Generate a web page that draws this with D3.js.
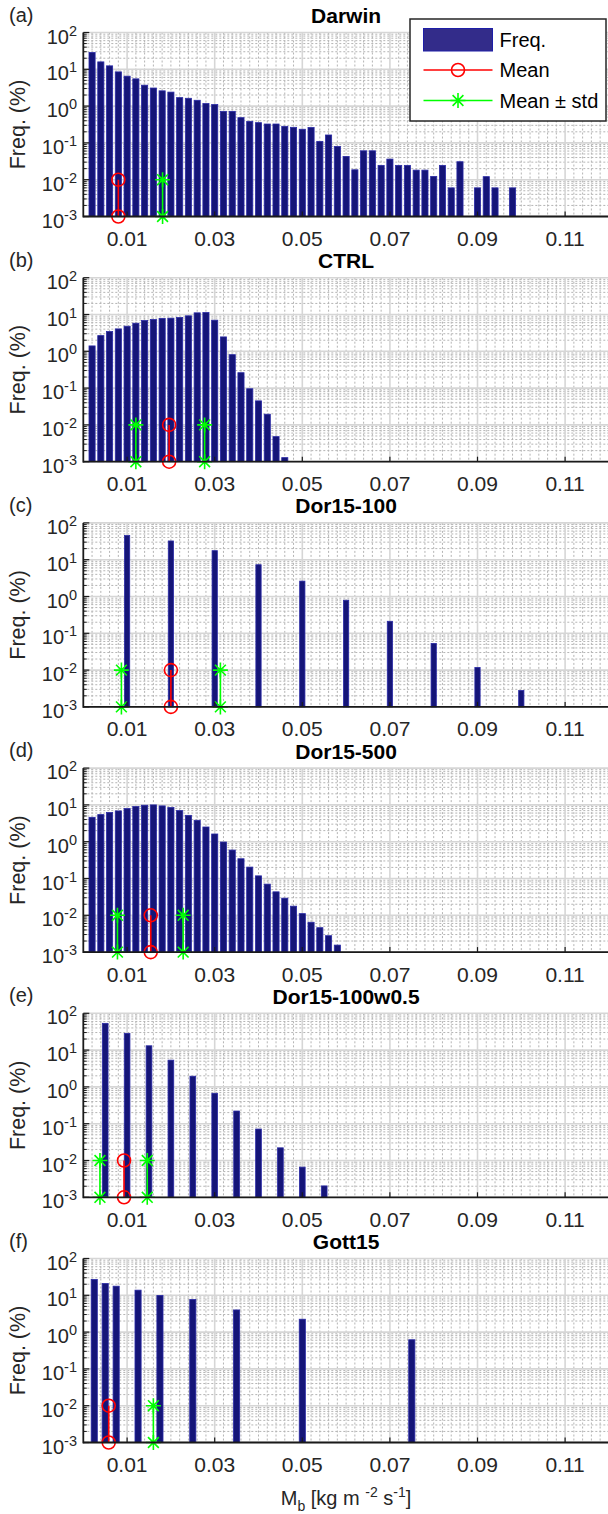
<!DOCTYPE html>
<html>
<head>
<meta charset="utf-8">
<script src="https://cdn.jsdelivr.net/npm/d3@7"></script>
<style>
body { margin: 0; background: #fff; }
svg { display: block; font-family: "Liberation Sans", Arial, sans-serif; }
</style>
</head>
<body>
<div id="chart"></div>
<script>
// bin centres [kg m-2 s-1] and frequencies [%]
var darwinX = [0.002, 0.004, 0.006, 0.008, 0.010, 0.012, 0.014, 0.016, 0.018, 0.020,
               0.022, 0.024, 0.026, 0.028, 0.030, 0.032, 0.034, 0.036, 0.038, 0.040,
               0.042, 0.044, 0.046, 0.048, 0.050, 0.052, 0.054, 0.056, 0.058, 0.060,
               0.062, 0.064, 0.066, 0.068, 0.070, 0.072, 0.074, 0.076, 0.078, 0.080,
               0.082, 0.084, 0.086, 0.090, 0.092, 0.094, 0.098];
var darwinF = [28.6, 15.9, 12.4, 8.5, 6.5, 5.5, 3.7, 3.1, 2.6, 2.4,
               1.7, 1.63, 1.44, 1.17, 1.10, 0.72, 0.72, 0.485, 0.385, 0.355,
               0.326, 0.326, 0.282, 0.265, 0.235, 0.262, 0.11, 0.164, 0.080, 0.043,
               0.0186, 0.061, 0.061, 0.0245, 0.0363, 0.0245, 0.0245, 0.0182, 0.0182, 0.0123,
               0.0245, 0.006, 0.0308, 0.006, 0.0121, 0.006, 0.006];

var ctrlX = [0.002, 0.004, 0.006, 0.008, 0.010, 0.012, 0.014, 0.016, 0.018, 0.020,
             0.022, 0.024, 0.026, 0.028, 0.030, 0.032, 0.034, 0.036, 0.038, 0.040,
             0.042, 0.044, 0.046];
var ctrlF = [1.40, 2.67, 3.44, 4.06, 4.8, 5.8, 6.86, 7.3, 7.8, 7.94,
             8.28, 9.2, 11.1, 11.3, 7.0, 2.46, 0.81, 0.262, 0.096, 0.045,
             0.0195, 0.0048, 0.00129];

var dor100X = [0.01, 0.02, 0.03, 0.04, 0.05, 0.06, 0.07, 0.08, 0.09, 0.10];
var dor100F = [45.2, 32.3, 17.6, 7.3, 2.62, 0.79, 0.212, 0.053, 0.0118, 0.00279];

var dor500X = [0.002, 0.004, 0.006, 0.008, 0.010, 0.012, 0.014, 0.016, 0.018, 0.020,
               0.022, 0.024, 0.026, 0.028, 0.030, 0.032, 0.034, 0.036, 0.038, 0.040,
               0.042, 0.044, 0.046, 0.048, 0.050, 0.052, 0.054, 0.056, 0.058];
var dor500F = [4.6, 5.45, 6.2, 6.86, 7.94, 9.0, 9.8, 10.0, 9.4, 8.45,
               7.0, 5.2, 3.82, 2.51, 1.62, 0.98, 0.593, 0.344, 0.204, 0.118,
               0.0703, 0.0434, 0.0292, 0.0177, 0.0111, 0.00646, 0.00461, 0.00279, 0.00155];

var w05X = [0.005, 0.010, 0.015, 0.020, 0.025, 0.030, 0.035, 0.040, 0.045, 0.050, 0.055];
var w05F = [53.4, 28.5, 13.1, 5.33, 1.95, 0.67, 0.221, 0.0716, 0.0221, 0.0066, 0.00204];

var gottX = [0.0025, 0.005, 0.0075, 0.0125, 0.0175, 0.025, 0.035, 0.05, 0.075];
var gottF = [26.9, 20.9, 17.7, 13.8, 9.9, 7.7, 4.0, 2.24, 0.62];

var meanX = [0.0080, 0.0196, 0.0200, 0.0154, 0.0093, 0.0058];
var stdX = [[0.0181], [0.0120, 0.0277], [0.0087, 0.0313], [0.0078, 0.0228], [0.0038, 0.0146], [0.0160]];

var titles = ["Darwin", "CTRL", "Dor15-100", "Dor15-500", "Dor15-100w0.5", "Gott15"];
var tags = ["(a)", "(b)", "(c)", "(d)", "(e)", "(f)"];
var xTickVals = [0.01, 0.03, 0.05, 0.07, 0.09, 0.11];
var yExps = [-3, -2, -1, 0, 1, 2];

var width = 608, height = 1514;
var left = 83.3, right = 608.9, plotH = 184, step = 245.2, firstTop = 32.5;
var barFill = "#151578", barEdge = "#2a2aa6";

var svg = d3.select("#chart").append("svg")
    .attr("width", width)
    .attr("height", height);

var x = d3.scaleLinear().domain([0, 0.12]).range([left, right]);

var panels = [
    {xs: darwinX, fs: darwinF, bw: 0.0014},
    {xs: ctrlX, fs: ctrlF, bw: 0.0014},
    {xs: dor100X, fs: dor100F, bw: 0.0012},
    {xs: dor500X, fs: dor500F, bw: 0.0014},
    {xs: w05X, fs: w05F, bw: 0.0013},
    {xs: gottX, fs: gottF, bw: 0.0014}
];

function asterisk(g, cx, cy, r, color) {
    var d = r * 0.72;
    var p = "M" + (cx - r) + "," + cy + "H" + (cx + r) +
        "M" + cx + "," + (cy - r) + "V" + (cy + r) +
        "M" + (cx - d) + "," + (cy - d) + "L" + (cx + d) + "," + (cy + d) +
        "M" + (cx - d) + "," + (cy + d) + "L" + (cx + d) + "," + (cy - d);
    g.append("path").attr("d", p).attr("stroke", color).attr("stroke-width", 1.6).attr("fill", "none");
}

function drawPanel(i) {
    var p = panels[i];
    var top = firstTop + i * step;
    var y = d3.scaleLog().domain([1e-3, 1e2]).range([top + plotH, top]);
    var g = svg.append("g");
    var bottom = y(1e-3);

    // minor grid (dotted)
    var minorX = d3.range(0.002, 0.1201, 0.002).filter(function(v) {
        var k = Math.round(v * 100);
        return !(Math.abs(v * 100 - k) < 1e-6 && k % 2 === 1);
    });
    g.selectAll(".mgx").data(minorX).enter().append("line")
        .attr("x1", d => x(d)).attr("x2", d => x(d))
        .attr("y1", top).attr("y2", bottom)
        .attr("stroke", "#b4b4b4").attr("stroke-width", 1).attr("stroke-dasharray", "2,2");
    var minorY = [];
    for (var e = -3; e < 2; e++) for (var m = 2; m <= 9; m++) minorY.push(m * Math.pow(10, e));
    g.selectAll(".mgy").data(minorY).enter().append("line")
        .attr("x1", left).attr("x2", right)
        .attr("y1", d => y(d)).attr("y2", d => y(d))
        .attr("stroke", "#b4b4b4").attr("stroke-width", 1).attr("stroke-dasharray", "2,2");

    // major grid
    g.selectAll(".gx").data(xTickVals).enter().append("line")
        .attr("x1", d => x(d)).attr("x2", d => x(d))
        .attr("y1", top).attr("y2", bottom)
        .attr("stroke", "#d6d6d6").attr("stroke-width", 1.6);
    g.selectAll(".gy").data(yExps).enter().append("line")
        .attr("x1", left).attr("x2", right)
        .attr("y1", d => y(Math.pow(10, d))).attr("y2", d => y(Math.pow(10, d)))
        .attr("stroke", "#d6d6d6").attr("stroke-width", 1.6);

    // bars
    var bwPx = x(p.bw) - x(0);
    g.selectAll(".bar").data(p.fs).enter().append("rect")
        .attr("x", (d, j) => x(p.xs[j]) - bwPx / 2)
        .attr("width", bwPx)
        .attr("y", d => y(d))
        .attr("height", d => bottom - y(d))
        .attr("fill", barFill)
        .attr("stroke", barEdge)
        .attr("stroke-width", 0.8);

    // mean +- std markers
    stdX[i].forEach(function(s) {
        g.append("line").attr("x1", x(s)).attr("x2", x(s))
            .attr("y1", y(1e-2)).attr("y2", y(1e-3))
            .attr("stroke", "#00ff00").attr("stroke-width", 1.6);
        asterisk(g, x(s), y(1e-2), 7.5, "#00ff00");
        asterisk(g, x(s), y(1e-3), 7.5, "#00ff00");
    });
    var mx = x(meanX[i]);
    g.append("line").attr("x1", mx).attr("x2", mx)
        .attr("y1", y(1e-2)).attr("y2", y(1e-3))
        .attr("stroke", "#ff0000").attr("stroke-width", 1.6);
    [1e-2, 1e-3].forEach(function(v) {
        g.append("circle").attr("cx", mx).attr("cy", y(v)).attr("r", 6.5)
            .attr("fill", "none").attr("stroke", "#ff0000").attr("stroke-width", 1.6);
    });

    // axes
    g.append("line").attr("x1", left).attr("x2", right).attr("y1", bottom).attr("y2", bottom)
        .attr("stroke", "#1a1a1a").attr("stroke-width", 1.8);
    g.append("line").attr("x1", left).attr("x2", left).attr("y1", top).attr("y2", bottom + 0.9)
        .attr("stroke", "#1a1a1a").attr("stroke-width", 1.8);
    g.selectAll(".mty").data(minorY).enter().append("line")
        .attr("x1", left).attr("x2", left + 3.5)
        .attr("y1", d => y(d)).attr("y2", d => y(d))
        .attr("stroke", "#1a1a1a").attr("stroke-width", 1);
    g.selectAll(".ty").data(yExps).enter().append("line")
        .attr("x1", left).attr("x2", left + 6)
        .attr("y1", d => y(Math.pow(10, d))).attr("y2", d => y(Math.pow(10, d)))
        .attr("stroke", "#1a1a1a").attr("stroke-width", 1.2);
    g.selectAll(".tx").data(xTickVals).enter().append("line")
        .attr("x1", d => x(d)).attr("x2", d => x(d))
        .attr("y1", bottom).attr("y2", bottom - 5)
        .attr("stroke", "#1a1a1a").attr("stroke-width", 1.2);

    // tick labels
    g.selectAll(".xl").data(xTickVals).enter().append("text")
        .attr("x", d => x(d)).attr("y", bottom + 29.5)
        .attr("text-anchor", "middle").attr("font-size", "21px").attr("fill", "#262626")
        .text(d => d.toFixed(2));
    var yl = g.selectAll(".yl").data(yExps).enter().append("text")
        .attr("x", 77).attr("y", d => y(Math.pow(10, d)) + 11)
        .attr("text-anchor", "end").attr("fill", "#262626");
    yl.append("tspan").attr("font-size", "20px").text("10");
    yl.append("tspan").attr("font-size", "14.5px").attr("dy", -8).text(d => d);

    // labels
    g.append("text").attr("x", (left + right) / 2).attr("y", top - 9.5)
        .attr("text-anchor", "middle").attr("font-size", "21px").attr("font-weight", "bold")
        .text(titles[i]);
    g.append("text").attr("x", 9).attr("y", top - 11)
        .attr("font-size", "20px").attr("fill", "#262626").text(tags[i]);
    g.append("text")
        .attr("transform", "translate(25," + (top + plotH / 2) + ") rotate(-90)")
        .attr("text-anchor", "middle").attr("font-size", "21.5px").attr("fill", "#262626")
        .text("Freq. (%)");

    return bottom;
}

for (var i = 0; i < panels.length; i++) drawPanel(i);

// legend (panel a)
var lg = svg.append("g");
lg.append("rect").attr("x", 410).attr("y", 19).attr("width", 196).attr("height", 102)
    .attr("fill", "#fff").attr("stroke", "#262626").attr("stroke-width", 1.5);
lg.append("rect").attr("x", 423.5).attr("y", 28.5).attr("width", 69).attr("height", 22.5)
    .attr("fill", "#332c8a").attr("stroke", "#1e1ea8").attr("stroke-width", 1);
lg.append("line").attr("x1", 423.5).attr("x2", 492.5).attr("y1", 70).attr("y2", 70)
    .attr("stroke", "#ff0000").attr("stroke-width", 1.6);
lg.append("circle").attr("cx", 458).attr("cy", 70).attr("r", 6.5)
    .attr("fill", "none").attr("stroke", "#ff0000").attr("stroke-width", 1.6);
lg.append("line").attr("x1", 423.5).attr("x2", 492.5).attr("y1", 100.5).attr("y2", 100.5)
    .attr("stroke", "#00ff00").attr("stroke-width", 1.6);
asterisk(lg, 458, 100.5, 7.5, "#00ff00");
[["Freq.", 46.5], ["Mean", 77], ["Mean \u00b1 std", 107.5]].forEach(function(t) {
    lg.append("text").attr("x", 499.5).attr("y", t[1]).attr("font-size", "20px").text(t[0]);
});

// x axis label
var xl = svg.append("text").attr("x", 346).attr("y", 1505)
    .attr("text-anchor", "middle").attr("font-size", "20px").attr("fill", "#262626");
xl.append("tspan").text("M");
xl.append("tspan").attr("font-size", "14px").attr("dy", 6).text("b");
xl.append("tspan").attr("dy", -6).text(" [kg m ");
xl.append("tspan").attr("font-size", "14px").attr("dy", -8).text("-2");
xl.append("tspan").attr("dy", 8).text(" s");
xl.append("tspan").attr("font-size", "14px").attr("dy", -8).text("-1");
xl.append("tspan").attr("dy", 8).text("]");
</script>
</body>
</html>
